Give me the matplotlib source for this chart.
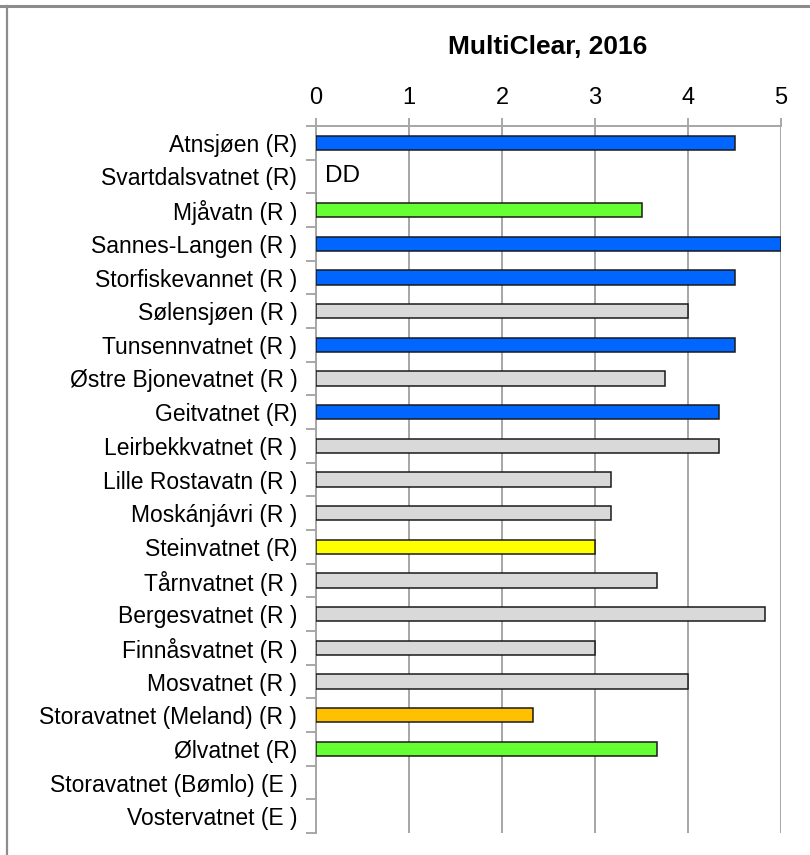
import matplotlib
matplotlib.use('Agg')
import matplotlib.pyplot as plt
from matplotlib.lines import Line2D
import numpy as np

plt.rcParams['font.family'] = ['Liberation Sans', 'DejaVu Sans']

# ── Data ──────────────────────────────────────────────────────────────────────
lakes = [
    "Atnsjøen (R)", "Svartdalsvatnet (R)", "Mjåvatn (R )", "Sannes-Langen (R )",
    "Storfiskevannet (R )", "Sølensjøen (R )", "Tunsennvatnet (R )",
    "Østre Bjonevatnet (R )", "Geitvatnet (R)", "Leirbekkvatnet (R )",
    "Lille Rostavatn (R )", "Moskánjávri (R )", "Steinvatnet (R)",
    "Tårnvatnet (R )", "Bergesvatnet (R )", "Finnåsvatnet (R )",
    "Mosvatnet (R )", "Storavatnet (Meland) (R )", "Ølvatnet (R)",
    "Storavatnet (Bømlo) (E )", "Vostervatnet (E )",
]
values = [4.5, np.nan, 3.5, 5.0, 4.5, 4.0, 4.5, 3.75, 4.33, 4.33, 3.17, 3.17,
          3.0, 3.67, 4.83, 3.0, 4.0, 2.33, 3.67, np.nan, np.nan]
colors = ["#0066FF", "white", "#66FF33", "#0066FF", "#0066FF", "#D9D9D9",
          "#0066FF", "#D9D9D9", "#0066FF", "#D9D9D9", "#D9D9D9", "#D9D9D9",
          "#FFFF00", "#D9D9D9", "#D9D9D9", "#D9D9D9", "#D9D9D9", "#FFC000",
          "#66FF33", "white", "white"]
dd_rows = ["Svartdalsvatnet (R)"]

# ── Plot ──────────────────────────────────────────────────────────────────────
fig = plt.figure(figsize=(8.1, 8.55), dpi=100)
ax = fig.add_axes([316/810, 1 - 833/855, (781-316)/810, (833-126)/855])

y = np.arange(len(lakes))
vals = np.nan_to_num(values)
mask = ~np.isnan(values)
ax.barh(y[mask], vals[mask], height=0.42, color=np.array(colors)[mask],
        edgecolor='#1a1a1a', linewidth=1.1, zorder=3)

for name in dd_rows:
    ax.text(0.1, lakes.index(name) - 0.02, "DD", ha='left', va='center',
            fontsize=17.5, zorder=4)

ax.set_xlim(0, 5)
ax.set_ylim(len(lakes) - 0.5, -0.5)
ax.xaxis.tick_top()
ax.set_xticks(range(6))
ax.tick_params(axis='x', length=6, width=1.2, color='#999999', pad=6,
               labelsize=17)
ax.set_yticks(y)
ax.set_yticklabels(lakes, fontsize=16.5)
ax.set_yticks(np.arange(len(lakes) + 1) - 0.5, minor=True)
ax.tick_params(axis='y', which='major', length=0, pad=13.5)
ax.tick_params(axis='y', which='minor', length=7, width=1.2, color='#999999')
ax.grid(axis='x', color='#A6A6A6', linewidth=1.4, zorder=0)

for s in ['right', 'bottom']:
    ax.spines[s].set_visible(False)
for s in ['top', 'left']:
    ax.spines[s].set_color('#A6A6A6')
    ax.spines[s].set_linewidth(1.4)

fig.text(548/810, 1 - 47/855, "MultiClear, 2016", fontsize=19,
         fontweight='bold', ha='center', va='center')

# outer frame (top and left edges)
fig.add_artist(Line2D([0, 1], [1 - 6.5/855] * 2, color='#8C8C8C', lw=2.2,
                      transform=fig.transFigure))
fig.add_artist(Line2D([6.5/810] * 2, [0, 1 - 6.5/855], color='#8C8C8C', lw=1.6,
                      transform=fig.transFigure))

plt.savefig("out.png", dpi=100)
plt.close()
